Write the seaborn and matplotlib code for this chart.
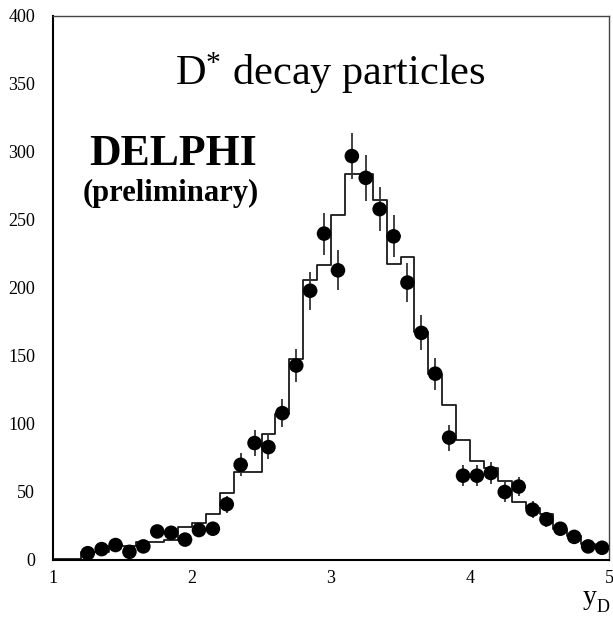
import numpy as np
import pandas as pd
import matplotlib
matplotlib.use("Agg")
import matplotlib.pyplot as plt
from matplotlib.ticker import MultipleLocator
import seaborn as sns

# Simulated distribution: bin lower edges (width 0.1) and contents
bin_low = [1.0, 1.1, 1.2, 1.3, 1.4, 1.5, 1.6, 1.7, 1.8, 1.9,
           2.0, 2.1, 2.2, 2.3, 2.4, 2.5, 2.6, 2.7, 2.8, 2.9,
           3.0, 3.1, 3.2, 3.3, 3.4, 3.5, 3.6, 3.7, 3.8, 3.9,
           4.0, 4.1, 4.2, 4.3, 4.4, 4.5, 4.6, 4.7, 4.8, 4.9]
sim_counts = [1, 1, 6, 6, 10, 10, 13, 13, 15, 24,
              27, 34, 49, 65, 65, 93, 107, 148, 206, 217,
              254, 284, 284, 265, 218, 223, 168, 137, 114, 88,
              73, 68, 58, 43, 38, 34, 23, 18, 12, 10]

# Measured data: bin centres, counts and statistical errors
data_y = [1.25, 1.35, 1.45, 1.55, 1.65, 1.75, 1.85, 1.95, 2.05, 2.15,
          2.25, 2.35, 2.45, 2.55, 2.65, 2.75, 2.85, 2.95, 3.05, 3.15,
          3.25, 3.35, 3.45, 3.55, 3.65, 3.75, 3.85, 3.95, 4.05, 4.15,
          4.25, 4.35, 4.45, 4.55, 4.65, 4.75, 4.85, 4.95]
data_counts = [5, 8, 11, 6, 10, 21, 20, 15, 22, 23,
               41, 70, 86, 83, 108, 143, 198, 240, 213, 297,
               281, 258, 238, 204, 167, 137, 90, 62, 62, 64,
               50, 54, 37, 30, 23, 17, 10, 9]
data_err = [2.2, 2.8, 3.3, 2.4, 3.2, 4.6, 4.5, 3.9, 4.7, 4.8,
            6.4, 8.4, 9.3, 9.1, 10.4, 12.0, 14.1, 15.5, 14.6, 17.2,
            16.8, 16.1, 15.4, 14.3, 12.9, 11.7, 9.5, 7.9, 7.9, 8.0,
            7.1, 7.3, 6.1, 5.5, 4.8, 4.1, 3.2, 3.0]

sns.set_style("white")
plt.rcParams["font.family"] = ["Liberation Serif", "DejaVu Serif"]
plt.rcParams["text.color"] = "black"
plt.rcParams["mathtext.fontset"] = "custom"
plt.rcParams["mathtext.rm"] = "Liberation Serif"
plt.rcParams["mathtext.it"] = "Liberation Serif:italic"

fig = plt.figure(figsize=(6.13, 6.17), dpi=100)
W, H = 613, 617
ax = fig.add_axes([53 / W, 1 - 560 / H, 556 / W, 544 / H])

edges = [round(b, 2) for b in bin_low] + [round(bin_low[-1] + 0.1, 2)]
sim = pd.DataFrame({"yd": np.array(bin_low) + 0.05, "n": sim_counts})
sns.histplot(data=sim, x="yd", weights="n", bins=edges, element="step",
             fill=False, color="#1a1a1a", linewidth=1.3, ax=ax)

dat = pd.DataFrame({"yd": data_y, "n": data_counts, "err": data_err})
ax.errorbar(dat["yd"], dat["n"], yerr=dat["err"], xerr=0.05, fmt="none",
            ecolor="#333333", elinewidth=1.3, capsize=0, zorder=3)
sns.scatterplot(data=dat, x="yd", y="n", color="black", s=110,
                edgecolor="none", ax=ax, zorder=4)

ax.set_xlim(1, 5)
ax.set_ylim(0, 400)
ax.set_xlabel("")
ax.set_ylabel("")
ax.xaxis.set_major_locator(MultipleLocator(1))
ax.xaxis.set_minor_locator(MultipleLocator(0.2))
ax.yaxis.set_major_locator(MultipleLocator(50))
ax.yaxis.set_minor_locator(MultipleLocator(10))
ax.tick_params(which="both", direction="in", top=False, right=False,
               colors="black", labelsize=13)
ax.tick_params(which="major", length=12, width=1.0)
ax.tick_params(which="minor", length=5.5, width=1.0)
ax.tick_params(axis="y", pad=13)
ax.tick_params(axis="x", pad=7)
for side in ["left", "bottom"]:
    ax.spines[side].set_linewidth(1.5)
    ax.spines[side].set_color("black")
for side in ["top", "right"]:
    ax.spines[side].set_linewidth(1.0)
    ax.spines[side].set_color("#444444")

fig.text(175 / W, 1 - 85 / H, r"D$^{*}$ decay particles", fontsize=30.5,
         ha="left", va="baseline")
fig.text(89 / W, 1 - 165 / H, "DELPHI", fontsize=31.5, fontweight="bold",
         ha="left", va="baseline")
fig.text(171 / W, 1 - 201 / H, "(preliminary)", fontsize=22,
         fontweight="bold", ha="center", va="baseline")
# axis title: y with subscript D
fig.text(583 / W, 1 - 604 / H, "y", fontsize=20, ha="left", va="baseline")
fig.text(597 / W, 1 - 612 / H, "D", fontsize=13, ha="left", va="baseline")

fig.savefig("out.png", dpi=100)
